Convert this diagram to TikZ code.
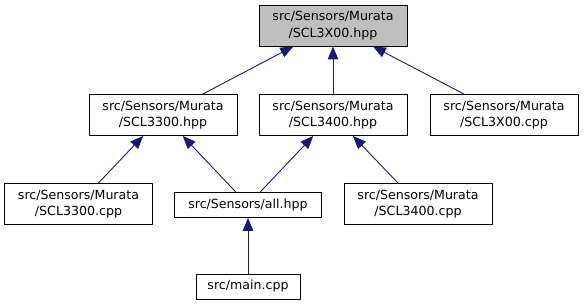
\documentclass[tikz,border=0pt]{standalone}
\usepackage{fontspec}
\setmainfont{DejaVu Sans}
\usetikzlibrary{arrows.meta}
\definecolor{incblue}{HTML}{191970}
\definecolor{rootgray}{HTML}{BFBFBF}
\begin{document}
\begin{tikzpicture}[x=1pt,y=-1pt, font=\fontsize{12.6}{16.5}\selectfont, line join=round,
		file/.style={draw=black, line width=0.8pt, fill=white, inner sep=0pt, align=center, minimum width=148pt, minimum height=41pt},
		onefile/.style={file, minimum height=25pt},
		rootfile/.style={file, fill=rootgray},
		inc/.style={draw=incblue, line width=0.9pt, -{Triangle[length=13pt,width=10.5pt]}}]
	\useasboundingbox (0,0) rectangle (583,305);
	% header and the files that include it
	\node[rootfile] (scl3x00h) at (333,25.5) {src/Sensors/Murata\\/SCL3X00.hpp};
	\node[file] (scl3300h) at (163,115) {src/Sensors/Murata\\/SCL3300.hpp};
	\node[file] (scl3400h) at (333,115) {src/Sensors/Murata\\/SCL3400.hpp};
	\node[file] (scl3x00c) at (504,115) {src/Sensors/Murata\\/SCL3X00.cpp};
	\node[file] (scl3300c) at (78.5,204) {src/Sensors/Murata\\/SCL3300.cpp};
	\node[onefile, minimum width=147pt] (allh) at (248,205) {src/Sensors/all.hpp};
	\node[file] (scl3400c) at (418,204) {src/Sensors/Murata\\/SCL3400.cpp};
	\node[onefile, minimum width=104pt] (mainc) at (248,286.5) {src/main.cpp};
	% include edges
	\draw[inc] (scl3300h) -- (scl3x00h);
	\draw[inc] (scl3400h) -- (scl3x00h);
	\draw[inc] (scl3x00c) -- (scl3x00h);
	\draw[inc] (scl3300c) -- (scl3300h);
	\draw[inc] (allh) -- (scl3300h);
	\draw[inc] (allh) -- (scl3400h);
	\draw[inc] (scl3400c) -- (scl3400h);
	\draw[inc] (mainc) -- (allh);
\end{tikzpicture}
\end{document}
